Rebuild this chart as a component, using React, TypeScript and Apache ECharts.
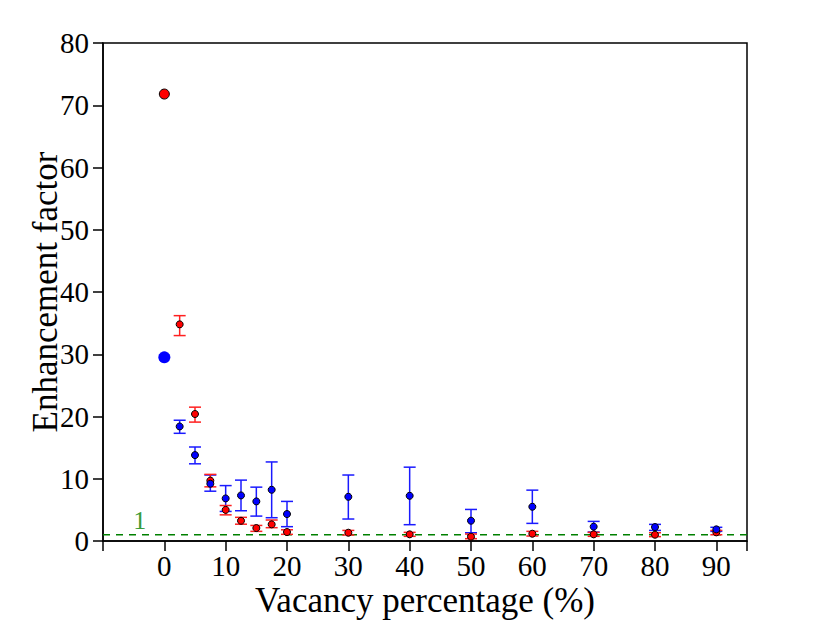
import React, { useEffect, useRef } from "react";
import * as echarts from "echarts";

// x positions of the small-dot points (vacancy %)
const vacancy = [2.5, 5, 7.5, 10, 12.5, 15, 17.5, 20, 30, 40, 50, 60, 70, 80, 90];

// red series
const redZero = [[0, 71.8]];
const redValues = [34.8, 20.4, 9.7, 5.0, 3.25, 2.08, 2.67, 1.44, 1.33, 1.07, 0.69, 1.17, 1.07, 1.01, 1.39];
const redLow = [33.0, 19.1, 8.7, 4.2, 2.7, 1.55, 2.14, 1.07, 0.96, 0.75, 0.37, 0.8, 0.75, 0.7, 1.0];
const redHigh = [36.2, 21.5, 10.7, 5.7, 3.8, 2.5, 3.37, 1.8, 1.7, 1.39, 1.12, 1.55, 1.39, 1.33, 1.7];

// blue series
const blueZero = [[0, 29.5]];
const blueValues = [18.4, 13.8, 9.2, 6.84, 7.32, 6.36, 8.23, 4.33, 7.1, 7.26, 3.26, 5.5, 2.3, 2.24, 1.87];
const blueLow = [17.3, 12.4, 8.0, 4.75, 4.86, 4.0, 3.74, 2.3, 3.53, 2.62, 1.33, 2.83, 1.44, 1.7, 1.55];
const blueHigh = [19.4, 15.1, 10.6, 8.9, 9.78, 8.65, 12.7, 6.36, 10.6, 11.86, 5.07, 8.17, 3.15, 2.67, 2.2];

const referenceLevel = 1;
const referenceLabelX = -4;

const FONT = "Liberation Serif";

function errorSeries(name: string, low: number[], high: number[], color: string) {
  return {
    name,
    type: "custom",
    data: vacancy.map((x, i) => [x, low[i], high[i]]),
    renderItem: (params: any, api: any) => {
      const x = api.value(0);
      const pLo = api.coord([x, api.value(1)]);
      const pHi = api.coord([x, api.value(2)]);
      const hw = 6;
      const style = { stroke: color, lineWidth: 1.5, fill: "none" };
      return {
        type: "group",
        children: [
          { type: "line", shape: { x1: pHi[0], y1: pHi[1], x2: pLo[0], y2: pLo[1] }, style },
          { type: "line", shape: { x1: pHi[0] - hw, y1: pHi[1], x2: pHi[0] + hw, y2: pHi[1] }, style },
          { type: "line", shape: { x1: pLo[0] - hw, y1: pLo[1], x2: pLo[0] + hw, y2: pLo[1] }, style },
        ],
      };
    },
    z: 2,
  };
}

export default function App() {
  const ref = useRef<HTMLDivElement>(null);
  useEffect(() => {
    if (!ref.current) return;
    const chart = echarts.init(ref.current, null, { renderer: "svg" });
    const dotStyle = (color: string) => ({ color, borderColor: "#000", borderWidth: 1, opacity: 1 });
    chart.setOption({
      animation: false,
      backgroundColor: "#fff",
      grid: {
        left: 103,
        right: 83,
        top: 43,
        bottom: 79,
        show: true,
        borderColor: "#000",
        borderWidth: 1.5,
        backgroundColor: "transparent",
      },
      xAxis: {
        type: "value",
        min: -10,
        max: 95,
        interval: 10,
        name: "Vacancy percentage (%)",
        nameLocation: "middle",
        nameGap: 42,
        nameMoveOverlap: false,
        nameTextStyle: { fontFamily: FONT, fontSize: 35, color: "#000" },
        axisLine: { show: true, onZero: false, lineStyle: { color: "#000", width: 1.5 } },
        axisTick: { show: true, length: 10, lineStyle: { color: "#000", width: 1.5 } },
        axisLabel: {
          fontFamily: FONT,
          fontSize: 29,
          color: "#000",
          margin: 10,
          formatter: (v: number) => (v < 0 || v > 90 ? "" : String(v)),
        },
        splitLine: { show: false },
      },
      yAxis: {
        type: "value",
        min: 0,
        max: 80,
        interval: 10,
        name: "Enhancement factor",
        nameLocation: "middle",
        nameGap: 40,
        nameMoveOverlap: false,
        nameTextStyle: { fontFamily: FONT, fontSize: 35, color: "#000" },
        axisLine: { show: true, onZero: false, lineStyle: { color: "#000", width: 1.5 } },
        axisTick: { show: true, length: 10, lineStyle: { color: "#000", width: 1.5 } },
        axisLabel: { fontFamily: FONT, fontSize: 29, color: "#000", margin: 14 },
        splitLine: { show: false },
      },
      series: [
        {
          name: "reference",
          type: "line",
          data: [[-10, referenceLevel], [95, referenceLevel]],
          symbol: "none",
          lineStyle: { color: "#008000", type: [7, 6], width: 1.5 },
          z: 1,
        },
        {
          name: "refLabel",
          type: "scatter",
          data: [[referenceLabelX, referenceLevel]],
          symbolSize: 0,
          label: {
            show: true,
            position: "top",
            distance: 1,
            formatter: "1",
            fontFamily: FONT,
            fontSize: 26,
            color: "#008000",
          },
          z: 1,
        },
        errorSeries("blueErr", blueLow, blueHigh, "#1a1aff"),
        errorSeries("redErr", redLow, redHigh, "#ff2020"),
        {
          name: "red",
          type: "scatter",
          data: vacancy.map((x, i) => [x, redValues[i]]),
          symbolSize: 7,
          itemStyle: dotStyle("#ff0000"),
          z: 3,
        },
        {
          name: "blue",
          type: "scatter",
          data: vacancy.map((x, i) => [x, blueValues[i]]),
          symbolSize: 7,
          itemStyle: dotStyle("#0000ff"),
          z: 4,
        },
        {
          name: "redZero",
          type: "scatter",
          data: redZero,
          symbolSize: 10,
          itemStyle: dotStyle("#ff0000"),
          z: 4,
        },
        {
          name: "blueZero",
          type: "scatter",
          data: blueZero,
          symbolSize: 12,
          itemStyle: { color: "#0000ff", borderColor: "#0000ff", borderWidth: 0, opacity: 1 },
          z: 4,
        },
      ],
    });
    return () => chart.dispose();
  }, []);
  return <div ref={ref} style={{ width: 830, height: 623, position: "absolute", left: 0, top: 0 }} />;
}
